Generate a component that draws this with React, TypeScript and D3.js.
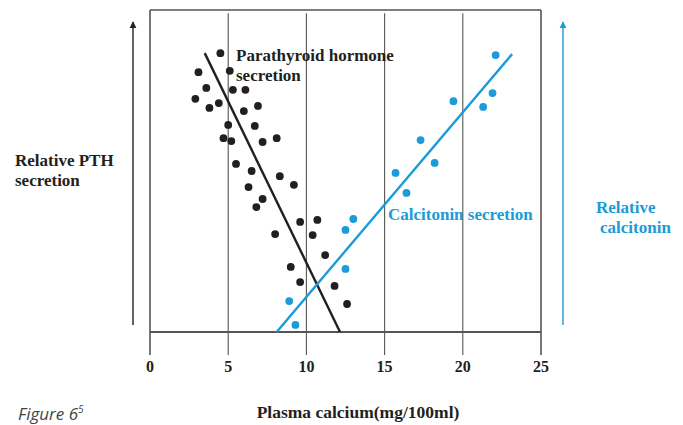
import React, { useEffect, useRef } from 'react';
import * as d3 from 'd3';

// plasma calcium (mg/100ml) vs relative secretion (0-100, arbitrary)
const pthCalcium = [4.5, 3.1, 5.1, 3.6, 5.3, 6.1, 2.9, 4.4, 3.8, 6.0, 6.9, 5.0, 6.7, 4.7, 5.2, 7.2, 8.1, 5.5, 6.5, 8.3, 9.2, 6.3, 7.2, 6.8, 9.6, 10.7, 8.0, 10.4, 11.2, 9.0, 9.6, 11.8, 12.6];
const pthLevel = [86.6, 80.7, 81.1, 75.8, 75.2, 75.2, 72.4, 71.1, 69.6, 68.6, 70.2, 64.3, 64.0, 60.2, 59.3, 59.0, 60.2, 52.2, 50.0, 48.4, 45.7, 45.0, 41.3, 38.8, 34.2, 34.8, 30.4, 30.1, 23.9, 20.2, 15.5, 14.3, 8.7];

const calcitoninCalcium = [8.9, 9.3, 12.5, 12.5, 13.0, 15.7, 16.4, 17.3, 18.2, 19.4, 21.3, 21.9, 22.1];
const calcitoninLevel = [9.6, 2.2, 19.6, 31.7, 35.1, 49.4, 43.2, 59.6, 52.5, 71.7, 69.9, 74.2, 86.0];

// fitted lines: [calcium, level] at both ends
const pthLine = [[3.5, 86.6], [12.15, 0]];
const calcitoninLine = [[8.1, 0], [23.15, 86.3]];

const xTicks = [0, 5, 10, 15, 20, 25];

const BLACK = '#231f20';
const BLUE = '#1b9bd8';
const FONT = '"Liberation Serif", "Times New Roman", serif';

export default function App() {
  const svgRef = useRef<SVGSVGElement>(null);

  useEffect(() => {
    const width = 683;
    const height = 425;
    const margin = { top: 10, right: 142, bottom: 93, left: 150 };

    const svg = d3.select(svgRef.current);
    svg.selectAll('*').remove();
    svg.attr('width', width).attr('height', height);

    svg.append('rect').attr('width', width).attr('height', height).attr('fill', '#fff');

    const x = d3.scaleLinear().domain([0, 25]).range([margin.left, width - margin.right]);
    const y = d3.scaleLinear().domain([0, 100]).range([height - margin.bottom, margin.top]);

    const y0 = y(0);

    // vertical grid lines + ticks below the axis
    xTicks.forEach(t => {
      svg.append('line')
        .attr('x1', x(t)).attr('x2', x(t))
        .attr('y1', t === 0 || t === 25 ? y(100) : y(99)).attr('y2', y0 + 23)
        .attr('stroke', '#555')
        .attr('stroke-width', t === 0 || t === 25 ? 1.6 : 1.1);

      svg.append('text')
        .attr('x', x(t))
        .attr('y', y0 + 40)
        .attr('text-anchor', 'middle')
        .style('font-family', FONT)
        .style('font-weight', 'bold')
        .style('font-size', '16px')
        .style('fill', BLACK)
        .text(t);
    });

    // frame top and bottom
    svg.append('line')
      .attr('x1', x(0)).attr('x2', x(25))
      .attr('y1', y(100)).attr('y2', y(100))
      .attr('stroke', '#555').attr('stroke-width', 1.4);
    svg.append('line')
      .attr('x1', x(0)).attr('x2', x(25))
      .attr('y1', y0).attr('y2', y0)
      .attr('stroke', '#555').attr('stroke-width', 2);

    // fitted lines
    const line = d3.line<number[]>().x(d => x(d[0])).y(d => y(d[1]));
    svg.append('path').attr('d', line(pthLine)).attr('stroke', BLACK).attr('stroke-width', 2.4).attr('fill', 'none');
    svg.append('path').attr('d', line(calcitoninLine)).attr('stroke', BLUE).attr('stroke-width', 2.4).attr('fill', 'none');

    // dots
    svg.append('g').selectAll('circle')
      .data(pthCalcium)
      .enter()
      .append('circle')
      .attr('cx', d => x(d))
      .attr('cy', (d, i) => y(pthLevel[i]))
      .attr('r', 3.9)
      .attr('fill', BLACK);

    svg.append('g').selectAll('circle')
      .data(calcitoninCalcium)
      .enter()
      .append('circle')
      .attr('cx', d => x(d))
      .attr('cy', (d, i) => y(calcitoninLevel[i]))
      .attr('r', 3.9)
      .attr('fill', BLUE);

    // arrows on both sides
    const defs = svg.append('defs');
    [['arrowBlack', BLACK], ['arrowBlue', BLUE]].forEach(([id, color]) => {
      defs.append('marker')
        .attr('id', id)
        .attr('viewBox', '0 0 10 10')
        .attr('refX', 9).attr('refY', 5)
        .attr('markerWidth', 7).attr('markerHeight', 8)
        .attr('markerUnits', 'userSpaceOnUse')
        .attr('orient', 'auto')
        .append('path')
        .attr('d', 'M0,0 L10,5 L0,10 Z')
        .attr('fill', color);
    });

    svg.append('line')
      .attr('x1', 133).attr('x2', 133)
      .attr('y1', y0 - 7).attr('y2', 22)
      .attr('stroke', BLACK).attr('stroke-width', 1.4)
      .attr('marker-end', 'url(#arrowBlack)');
    svg.append('line')
      .attr('x1', 563).attr('x2', 563)
      .attr('y1', y0 - 7).attr('y2', 22)
      .attr('stroke', BLUE).attr('stroke-width', 1.4)
      .attr('marker-end', 'url(#arrowBlue)');

    // labels
    const label = (lines: string[], lx: number, ly: number, color: string, dx: number[] = []) => {
      const t = svg.append('text')
        .style('font-family', FONT)
        .style('font-weight', 'bold')
        .style('font-size', '17px')
        .style('fill', color);
      lines.forEach((s, i) => {
        t.append('tspan')
          .attr('x', lx + (dx[i] || 0))
          .attr('y', ly + i * 20)
          .text(s);
      });
    };

    label(['Parathyroid hormone', 'secretion'], 236, 61, BLACK);
    label(['Calcitonin secretion'], 388, 220, BLUE);
    label(['Relative PTH', 'secretion'], 15, 166, BLACK);
    label(['Relative', 'calcitonin'], 596, 213, BLUE, [0, 4]);

    svg.append('text')
      .attr('x', 358)
      .attr('y', 418)
      .attr('text-anchor', 'middle')
      .style('font-family', FONT)
      .style('font-weight', 'bold')
      .style('font-size', '17.5px')
      .style('fill', BLACK)
      .text('Plasma calcium(mg/100ml)');

    const fig = svg.append('text')
      .attr('x', 18)
      .attr('y', 420)
      .style('font-family', '"Open Sans", sans-serif')
      .style('font-style', 'italic')
      .style('font-size', '17px')
      .style('fill', '#444');
    fig.append('tspan').text('Figure 6');
    fig.append('tspan').attr('dy', -7).style('font-size', '10px').text('5');
  }, []);

  return (
    <svg ref={svgRef} style={{ position: 'absolute', left: 0, top: 0, display: 'block' }} />
  );
}
